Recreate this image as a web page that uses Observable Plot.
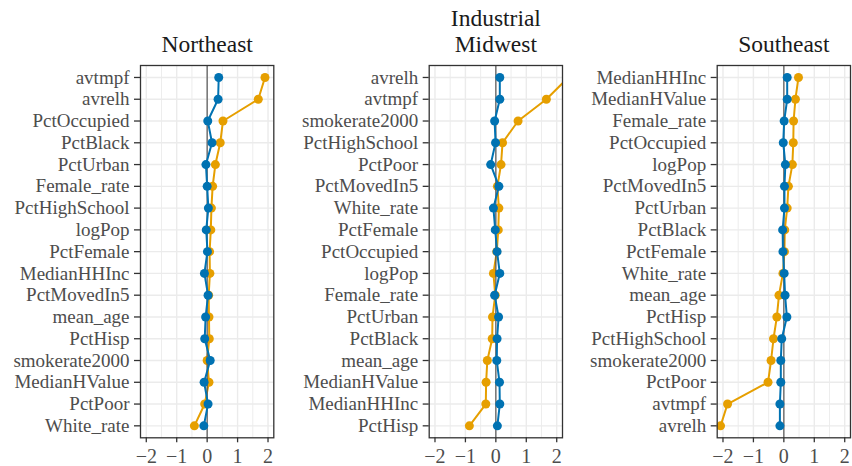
<!DOCTYPE html>
<html>
<head>
<meta charset="utf-8">
<script src="https://cdn.jsdelivr.net/npm/d3@7"></script>
<script src="https://cdn.jsdelivr.net/npm/@observablehq/plot@0.6"></script>
<style>
  body { margin: 0; background: #fff; }
  #wrap { position: relative; width: 852px; height: 466px; overflow: hidden; }
  #wrap svg { position: absolute; top: 0; }
  #wrap svg, #wrap svg text { font-family: "Liberation Serif", "DejaVu Serif", serif !important; }
</style>
</head>
<body>
<div id="wrap"></div>
<script>
// Standardised coefficients for each region, two models per region.
const northeastVars = ["avtmpf", "avrelh", "PctOccupied", "PctBlack", "PctUrban", "Female_rate",
  "PctHighSchool", "logPop", "PctFemale", "MedianHHInc", "PctMovedIn5", "mean_age", "PctHisp",
  "smokerate2000", "MedianHValue", "PctPoor", "White_rate"];
const northeastModelA = [0.38, 0.36, 0.02, 0.16, -0.04, 0.00, 0.04, -0.03, 0.01, -0.09, 0.03, -0.05, -0.08, 0.10, -0.10, 0.03, -0.11];
const northeastModelB = [1.90, 1.68, 0.52, 0.43, 0.27, 0.18, 0.14, 0.12, 0.08, 0.09, 0.05, 0.06, 0.07, 0.00, 0.06, -0.08, -0.42];

const midwestVars = ["avrelh", "avtmpf", "smokerate2000", "PctHighSchool", "PctPoor", "PctMovedIn5",
  "White_rate", "PctFemale", "PctOccupied", "logPop", "Female_rate", "PctUrban", "PctBlack",
  "mean_age", "MedianHValue", "MedianHHInc", "PctHisp"];
const midwestModelA = [0.13, 0.13, -0.04, -0.01, -0.17, 0.10, -0.08, -0.02, 0.04, 0.13, -0.04, 0.09, 0.04, 0.03, 0.12, 0.13, 0.05];
const midwestModelB = [2.38, 1.66, 0.73, 0.22, 0.17, 0.05, 0.10, 0.08, 0.03, -0.08, -0.02, -0.11, -0.12, -0.28, -0.32, -0.33, -0.87];

const southeastVars = ["MedianHHInc", "MedianHValue", "Female_rate", "PctOccupied", "logPop",
  "PctMovedIn5", "PctUrban", "PctBlack", "PctFemale", "White_rate", "mean_age", "PctHisp",
  "PctHighSchool", "smokerate2000", "PctPoor", "avtmpf", "avrelh"];
const southeastModelA = [0.11, 0.11, 0.01, -0.02, 0.05, 0.02, 0.02, -0.04, -0.03, 0.01, 0.04, 0.10, -0.07, -0.10, -0.10, -0.13, -0.13];
const southeastModelB = [0.48, 0.38, 0.32, 0.31, 0.28, 0.15, 0.11, 0.03, 0.02, -0.03, -0.16, -0.23, -0.34, -0.42, -0.52, -1.85, -2.08];

const regionTitles = ["Northeast", "Industrial\nMidwest", "Southeast"];
const xTicks = [-2, -1, 0, 1, 2];
const xMinor = [-1.5, -0.5, 0.5, 1.5];

const colorA = "#0072B2";
const colorB = "#E69F00";
const xDomain = [-2.19, 2.19];

// Panel placement: left offset of each svg, its width and margins.
const layout = [
  {left: 0,   width: 280,   ml: 140,   mr: 6.7},
  {left: 280, width: 289,   ml: 148.7, mr: 7},
  {left: 570, width: 282,   ml: 146.7, mr: 2.0}
];

function panel(title, vars, valsA, valsB, box) {
  const rows = vars.map((v, i) => ({v, a: valsA[i], b: valsB[i]}));
  const svg = Plot.plot({
    width: box.width,
    height: 466,
    marginLeft: box.ml,
    marginRight: box.mr,
    marginTop: 65,
    marginBottom: 28.7,
    x: {domain: xDomain, label: null},
    y: {type: "point", domain: vars, padding: 0.55, round: false, label: null},
    style: {fontFamily: "'Liberation Serif', 'DejaVu Serif', serif", background: "transparent", overflow: "visible"},
    marks: [
      Plot.ruleX(xMinor, {stroke: "#EBEBEB", strokeWidth: 0.9}),
      Plot.ruleX(xTicks, {stroke: "#EBEBEB", strokeWidth: 1.4}),
      Plot.ruleY(vars, {stroke: "#EBEBEB", strokeWidth: 1.4}),
      Plot.line(rows, {x: "b", y: "v", stroke: colorB, strokeWidth: 2, clip: true}),
      Plot.dot(rows, {x: "b", y: "v", fill: colorB, r: 4.5, clip: true}),
      Plot.ruleX([0], {stroke: "#555", strokeWidth: 1.2}),
      Plot.line(rows, {x: "a", y: "v", stroke: colorA, strokeWidth: 2, clip: true}),
      Plot.dot(rows, {x: "a", y: "v", fill: colorA, r: 4.5, clip: true}),
      Plot.frame({stroke: "#333", strokeWidth: 1.3}),
      Plot.axisX({ticks: xTicks, tickFormat: d3.format("d"), tickSize: 5, tickPadding: 6, fontSize: 20, stroke: "#333", fill: "#4D4D4D", strokeWidth: 1.3, label: null}),
      Plot.axisY({tickSize: 6, tickPadding: 5, fontSize: 19, stroke: "#333", fill: "#4D4D4D", strokeWidth: 1.3, label: null}),
      Plot.text([title], {frameAnchor: "top", dy: -14, lineAnchor: "bottom", fontSize: 23.5, lineHeight: 1.07, fill: "#1A1A1A"})
    ]
  });
  svg.style.left = box.left + "px";
  return svg;
}

const wrap = document.getElementById("wrap");
wrap.appendChild(panel(regionTitles[0], northeastVars, northeastModelA, northeastModelB, layout[0]));
wrap.appendChild(panel(regionTitles[1], midwestVars, midwestModelA, midwestModelB, layout[1]));
wrap.appendChild(panel(regionTitles[2], southeastVars, southeastModelA, southeastModelB, layout[2]));
</script>
</body>
</html>
